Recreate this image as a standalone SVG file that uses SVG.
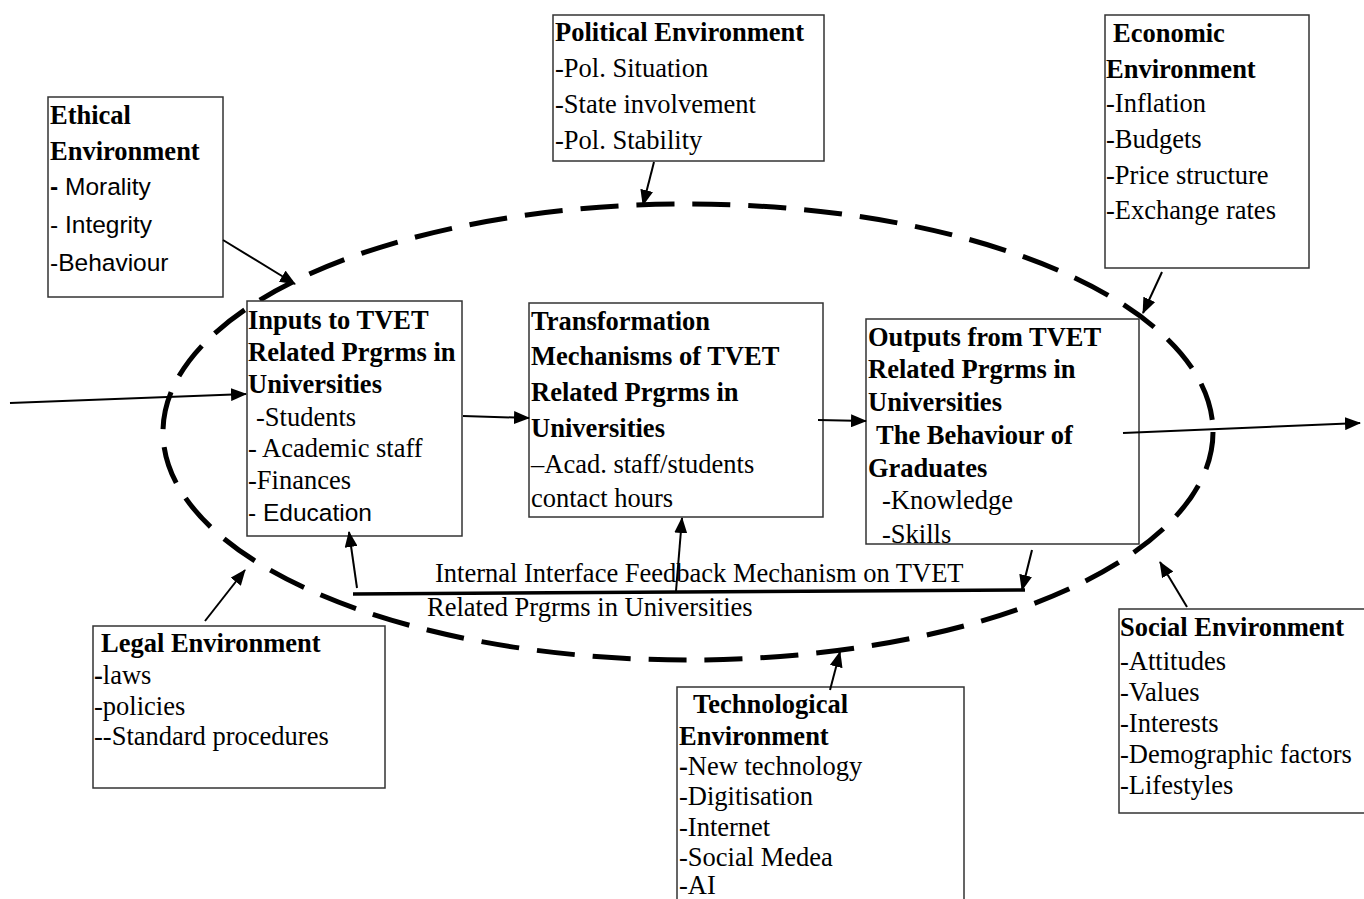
<svg xmlns="http://www.w3.org/2000/svg" width="1364" height="899" viewBox="0 0 1364 899">
  <style>
    .box { fill: #ffffff; stroke: #333333; stroke-width: 1.5; }
    .t { font-family: "Liberation Serif", "Times New Roman", serif; font-size: 26.5px; fill: #000000; }
    .b { font-weight: bold; }
    .s { font-family: "Liberation Sans", Arial, sans-serif; font-size: 24.5px; }
    .ln { stroke: #000000; stroke-width: 2; fill: none; marker-end: url(#arrow); }
    .env { fill: none; stroke: #000000; stroke-width: 5; stroke-dasharray: 38 18; }
  </style>
  <defs>
    <marker id="arrow" markerUnits="userSpaceOnUse" markerWidth="17" markerHeight="13" refX="15" refY="6.5" orient="auto">
      <path d="M0,0 L16,6.5 L0,13 z" fill="#000000"/>
    </marker>
  </defs>
  <rect width="1364" height="899" fill="#ffffff"/>

  <!-- system boundary -->
  <ellipse class="env" cx="688" cy="432" rx="525" ry="228"/>

  <g id="ethical">
    <rect class="box" x="48" y="97" width="175" height="200"/>
    <text class="t b" x="50" y="124">Ethical</text>
    <text class="t b" x="50" y="160">Environment</text>
    <text class="t s" x="50" y="195"><tspan font-weight="bold">-</tspan> Morality</text>
    <text class="t s" x="50" y="233">- Integrity</text>
    <text class="t s" x="50" y="271">-Behaviour</text>
  </g>

  <g id="political">
    <rect class="box" x="553" y="15" width="271" height="146"/>
    <text class="t b" x="555" y="41">Political Environment</text>
    <text class="t" x="555" y="77">-Pol. Situation</text>
    <text class="t" x="555" y="113">-State involvement</text>
    <text class="t" x="555" y="149">-Pol. Stability</text>
  </g>

  <g id="economic">
    <rect class="box" x="1105" y="15" width="204" height="253"/>
    <text class="t b" x="1113" y="42">Economic</text>
    <text class="t b" x="1106" y="78">Environment</text>
    <text class="t" x="1106" y="112">-Inflation</text>
    <text class="t" x="1106" y="148">-Budgets</text>
    <text class="t" x="1106" y="184">-Price structure</text>
    <text class="t" x="1106" y="219">-Exchange rates</text>
  </g>

  <g id="inputs">
    <rect class="box" x="247" y="301" width="215" height="235"/>
    <text class="t b" x="248" y="329">Inputs to TVET</text>
    <text class="t b" x="248" y="361">Related Prgrms in</text>
    <text class="t b" x="248" y="393">Universities</text>
    <text class="t" x="256" y="426">-Students</text>
    <text class="t" x="248" y="457">- Academic staff</text>
    <text class="t" x="248" y="489">-Finances</text>
    <text class="t s" x="248" y="521">- Education</text>
  </g>

  <g id="transformation">
    <rect class="box" x="529" y="303" width="294" height="214"/>
    <text class="t b" x="531" y="330">Transformation</text>
    <text class="t b" x="531" y="365">Mechanisms of TVET</text>
    <text class="t b" x="531" y="401">Related Prgrms in</text>
    <text class="t b" x="531" y="437">Universities</text>
    <text class="t" x="531" y="473">–Acad. staff/students</text>
    <text class="t" x="531" y="507">contact hours</text>
  </g>

  <g id="outputs">
    <rect class="box" x="866" y="319" width="273" height="225"/>
    <text class="t b" x="868" y="346">Outputs from TVET</text>
    <text class="t b" x="868" y="378">Related Prgrms in</text>
    <text class="t b" x="868" y="411">Universities</text>
    <text class="t b" x="876" y="444">The Behaviour of</text>
    <text class="t b" x="868" y="477">Graduates</text>
    <text class="t" x="882" y="509">-Knowledge</text>
    <text class="t" x="882" y="543">-Skills</text>
  </g>

  <g id="legal">
    <rect class="box" x="93" y="626" width="292" height="162"/>
    <text class="t b" x="101" y="652">Legal Environment</text>
    <text class="t" x="94" y="684"><tspan font-weight="bold">-</tspan>laws</text>
    <text class="t" x="94" y="715">-policies</text>
    <text class="t" x="94" y="745">--Standard procedures</text>
  </g>

  <g id="technological">
    <rect class="box" x="677" y="687" width="287" height="230"/>
    <text class="t b" x="693" y="713">Technological</text>
    <text class="t b" x="679" y="745">Environment</text>
    <text class="t" x="679" y="775"><tspan font-weight="bold">-</tspan>New technology</text>
    <text class="t" x="679" y="805">-Digitisation</text>
    <text class="t" x="679" y="836">-Internet</text>
    <text class="t" x="679" y="866">-Social Medea</text>
    <text class="t" x="679" y="894">-AI</text>
  </g>

  <g id="social">
    <rect class="box" x="1119" y="609" width="260" height="204"/>
    <text class="t b" x="1120" y="636">Social Environment</text>
    <text class="t" x="1120" y="670">-Attitudes</text>
    <text class="t" x="1120" y="701">-Values</text>
    <text class="t" x="1120" y="732">-Interests</text>
    <text class="t" x="1120" y="763">-Demographic factors</text>
    <text class="t" x="1120" y="794">-Lifestyles</text>
  </g>

  <g id="feedback">
    <line x1="353" y1="594" x2="1025" y2="590" stroke="#000000" stroke-width="3.5"/>
    <text class="t" x="435" y="582">Internal Interface Feedback Mechanism on TVET</text>
    <text class="t" x="427" y="616">Related Prgrms in Universities</text>
  </g>

  <g id="connectors">
    <line class="ln" x1="223" y1="240" x2="295" y2="284"/>
    <line class="ln" x1="654" y1="162" x2="643" y2="205"/>
    <line class="ln" x1="1162" y1="272" x2="1143" y2="313"/>
    <line class="ln" x1="10" y1="403" x2="246" y2="394"/>
    <line class="ln" x1="463" y1="416" x2="529" y2="418"/>
    <line class="ln" x1="818" y1="420" x2="866" y2="421"/>
    <line class="ln" x1="1123" y1="433" x2="1360" y2="423"/>
    <line class="ln" x1="205" y1="621" x2="245" y2="570"/>
    <line class="ln" x1="830" y1="690" x2="840" y2="652"/>
    <line class="ln" x1="1187" y1="607" x2="1160" y2="562"/>
    <line class="ln" x1="357" y1="588" x2="349" y2="532"/>
    <line class="ln" x1="676" y1="591" x2="682" y2="518"/>
    <line class="ln" x1="1032" y1="550" x2="1022" y2="590"/>
  </g>
</svg>
